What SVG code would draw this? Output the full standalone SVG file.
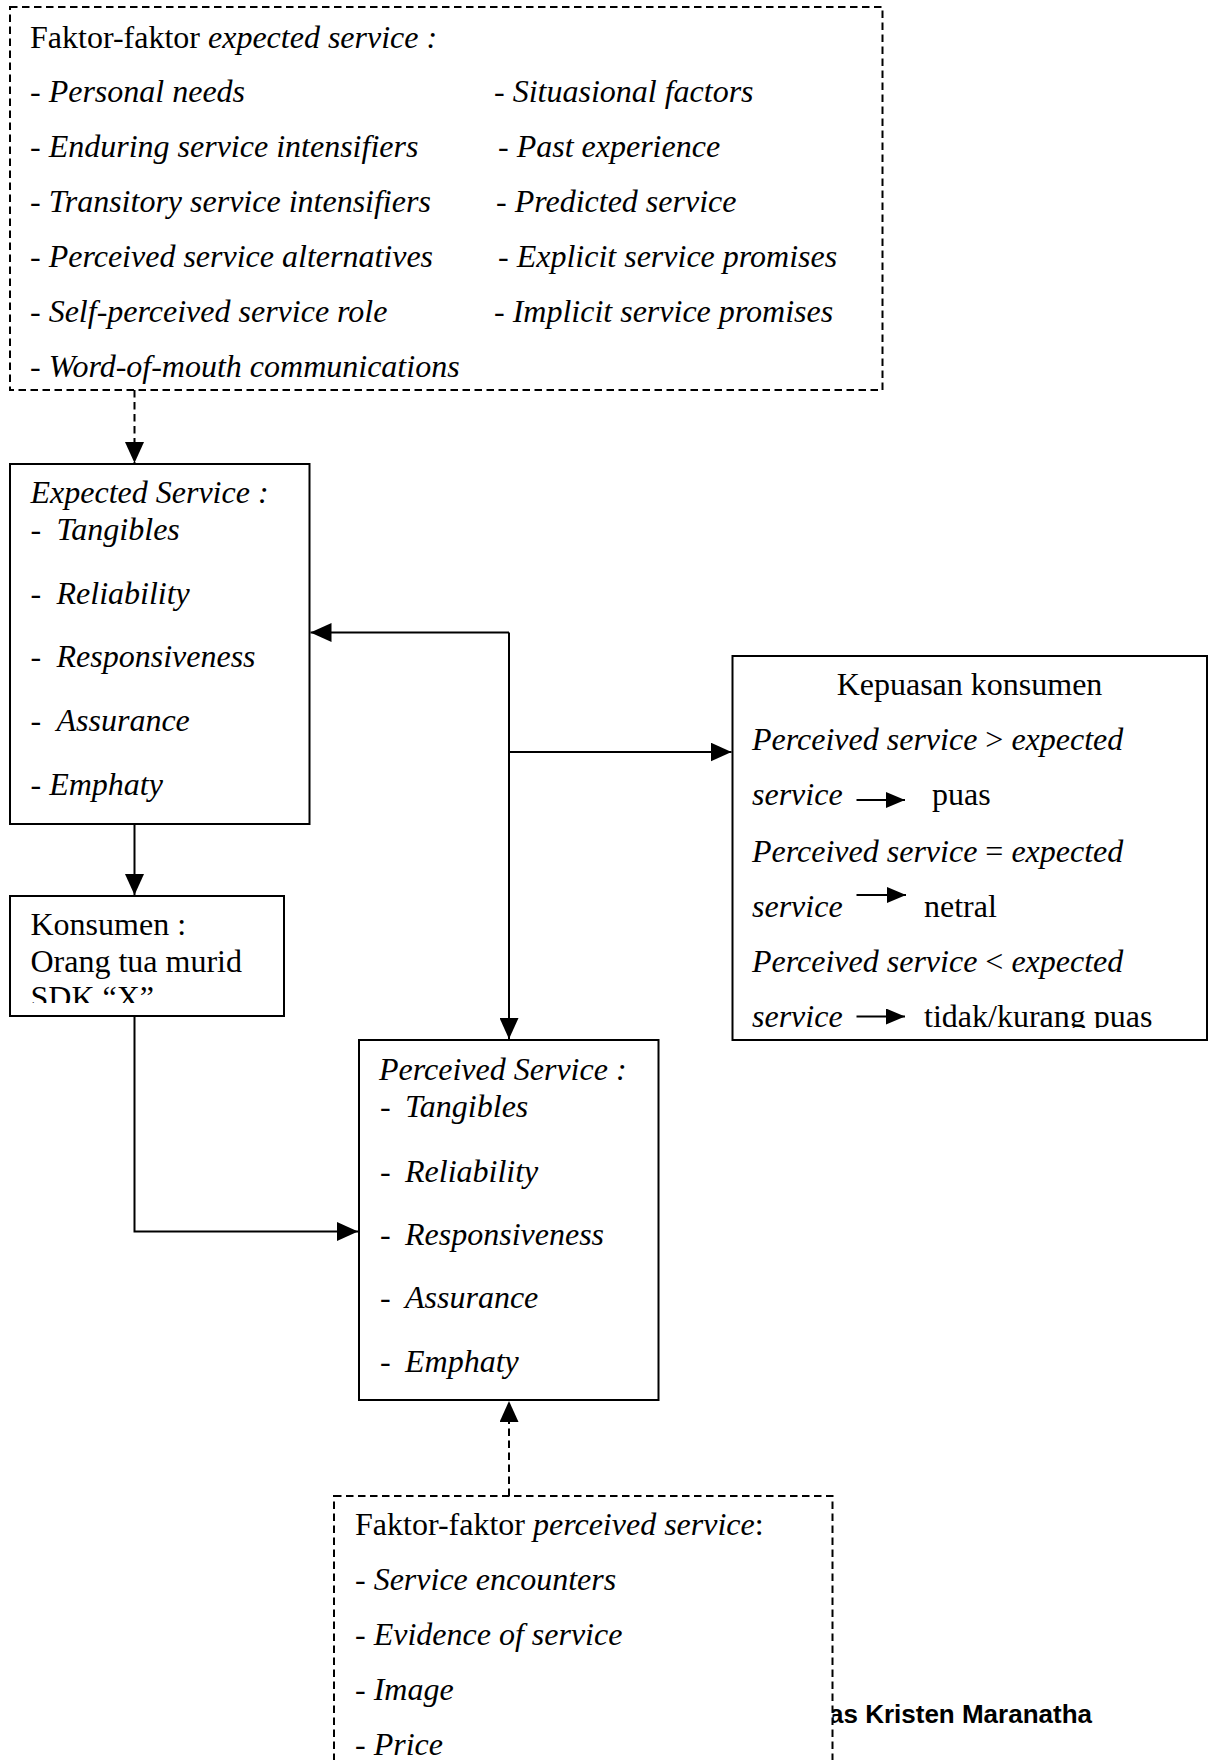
<svg xmlns="http://www.w3.org/2000/svg" width="1208" height="1760" viewBox="0 0 1208 1760">
<style>
.t{font-family:"Liberation Serif","Times New Roman",serif;font-size:32px;fill:#000}
.i{font-style:italic}
.box{fill:#fff;stroke:#000;stroke-width:2}
.dbox{fill:#fff;stroke:#000;stroke-width:2;stroke-dasharray:7.5 4.5}
.ln{fill:none;stroke:#000;stroke-width:2}
.dl{fill:none;stroke:#000;stroke-width:2;stroke-dasharray:7.5 4.5}
.foot{font-family:"Liberation Sans",Arial,sans-serif;font-weight:bold;font-size:26px;fill:#000}
</style>
<defs>
<marker id="ah" markerUnits="userSpaceOnUse" markerWidth="21" markerHeight="19" refX="21" refY="9.5" orient="auto">
<path d="M0,0 L21,9.5 L0,19 Z" fill="#000"/>
</marker>
<marker id="sm" markerUnits="userSpaceOnUse" markerWidth="19" markerHeight="16" refX="19" refY="8" orient="auto">
<path d="M0,0 L19,8 L0,16 Z" fill="#000"/>
</marker>
<clipPath id="clipK"><rect x="10" y="896" width="274" height="107"/></clipPath>
<clipPath id="clipP"><rect x="732" y="656" width="476" height="372"/></clipPath>
</defs>
<rect width="1208" height="1760" fill="#fff"/>

<text class="foot" x="829" y="1723">as Kristen Maranatha</text>

<g id="faktor-expected">
<rect class="dbox" x="10" y="7" width="872.5" height="383"/>
<text class="t" x="30" y="48">Faktor-faktor <tspan class="i">expected service :</tspan></text>
<text class="t i" x="30" y="102">- Personal needs</text>
<text class="t i" x="30" y="157">- Enduring service intensifiers</text>
<text class="t i" x="30" y="212">- Transitory service intensifiers</text>
<text class="t i" x="30" y="267">- Perceived service alternatives</text>
<text class="t i" x="30" y="322">- Self-perceived service role</text>
<text class="t i" x="30" y="377">- Word-of-mouth communications</text>
<text class="t i" x="494" y="102">- Situasional factors</text>
<text class="t i" x="498" y="157">- Past experience</text>
<text class="t i" x="496" y="212">- Predicted service</text>
<text class="t i" x="498" y="267">- Explicit service promises</text>
<text class="t i" x="494" y="322">- Implicit service promises</text>
</g>

<g id="expected-service">
<rect class="box" x="10" y="464" width="299.5" height="360"/>
<text class="t i" x="30.5" y="503">Expected Service :</text>
<text class="t" x="30.5" y="540">-<tspan class="i" x="56.5">Tangibles</tspan></text>
<text class="t" x="30.5" y="604">-<tspan class="i" x="56.5">Reliability</tspan></text>
<text class="t" x="30.5" y="667">-<tspan class="i" x="56.5">Responsiveness</tspan></text>
<text class="t" x="30.5" y="731">-<tspan class="i" x="56.5">Assurance</tspan></text>
<text class="t i" x="30.5" y="795">- Emphaty</text>
</g>

<g id="konsumen">
<rect class="box" x="10" y="896" width="274" height="120"/>
<g clip-path="url(#clipK)">
<text class="t" x="30.5" y="935">Konsumen :</text>
<text class="t" x="30.5" y="971.5">Orang tua murid</text>
<text class="t" x="30.5" y="1008">SDK “X”</text>
</g>
</g>

<g id="perceived-service">
<rect class="box" x="359" y="1040" width="299.5" height="360"/>
<text class="t i" x="379" y="1080">Perceived Service :</text>
<text class="t" x="380" y="1117">-<tspan class="i" x="405">Tangibles</tspan></text>
<text class="t" x="380" y="1181.5">-<tspan class="i" x="405">Reliability</tspan></text>
<text class="t" x="380" y="1245">-<tspan class="i" x="405">Responsiveness</tspan></text>
<text class="t" x="380" y="1308">-<tspan class="i" x="405">Assurance</tspan></text>
<text class="t" x="380" y="1371.5">-<tspan class="i" x="405">Emphaty</tspan></text>
</g>

<g id="kepuasan-konsumen">
<rect class="box" x="732.5" y="656" width="474.5" height="384"/>
<g clip-path="url(#clipP)">
<text class="t" x="969.5" y="695" text-anchor="middle">Kepuasan konsumen</text>
<text class="t" x="752" y="750"><tspan class="i">Perceived service</tspan> &gt; <tspan class="i">expected</tspan></text>
<text class="t i" x="752" y="805">service</text>
<text class="t" x="932" y="805">puas</text>
<text class="t" x="752" y="861.5"><tspan class="i">Perceived service</tspan> = <tspan class="i">expected</tspan></text>
<text class="t i" x="752" y="916.5">service</text>
<text class="t" x="924" y="916.5">netral</text>
<text class="t" x="752" y="971.5"><tspan class="i">Perceived service</tspan> &lt; <tspan class="i">expected</tspan></text>
<text class="t i" x="752" y="1026.5">service</text>
<text class="t" x="924" y="1026.5">tidak/kurang puas</text>
</g>
<path class="ln" d="M856.5,800 H905" marker-end="url(#sm)"/>
<path class="ln" d="M856.5,895 H906" marker-end="url(#sm)"/>
<path class="ln" d="M856.5,1016.5 H905" marker-end="url(#sm)"/>
</g>

<g id="faktor-perceived">
<rect class="dbox" x="334" y="1496" width="498.5" height="300"/>
<text class="t" x="355" y="1535">Faktor-faktor <tspan class="i">perceived service</tspan>:</text>
<text class="t i" x="355" y="1590">- Service encounters</text>
<text class="t i" x="355" y="1645">- Evidence of service</text>
<text class="t i" x="355" y="1700">- Image</text>
<text class="t i" x="355" y="1755">- Price</text>
</g>

<g id="connectors">
<path class="dl" d="M134.5,390 V463" marker-end="url(#ah)"/>
<path class="ln" d="M134.5,824 V895" marker-end="url(#ah)"/>
<path class="ln" d="M134.5,1016 V1231.5 H358" marker-end="url(#ah)"/>
<path class="ln" d="M509,632.5 H310.5" marker-end="url(#ah)"/>
<path class="ln" d="M509,632.5 V1039" marker-end="url(#ah)"/>
<path class="ln" d="M509,752 H731.5" marker-end="url(#ah)"/>
<path class="dl" d="M509,1496 V1401" marker-end="url(#ah)"/>
</g>
</svg>
